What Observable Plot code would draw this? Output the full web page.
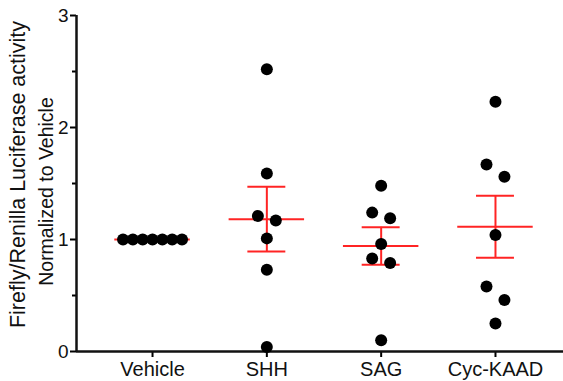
<!DOCTYPE html>
<html><head><meta charset="utf-8">
<script src="https://cdn.jsdelivr.net/npm/d3@7"></script>
<script src="https://cdn.jsdelivr.net/npm/@observablehq/plot@0.6"></script>
<style>body{margin:0;background:#fff;} svg{display:block;}</style>
</head><body><div id="chart"></div>
<script>
const categories = ["Vehicle", "SHH", "SAG", "Cyc-KAAD"];
const vehicle = [1.00, 1.00, 1.00, 1.00, 1.00, 1.00, 1.00];
const shh = [2.52, 1.59, 1.21, 1.17, 1.01, 0.73, 0.04];
const sag = [1.48, 1.24, 1.19, 0.96, 0.83, 0.79, 0.10];
const cycKAAD = [2.23, 1.67, 1.56, 1.04, 0.58, 0.46, 0.25];
const yTicks = [0, 1, 2, 3];
const yMinorTicks = [0.5, 1.5, 2.5];
const yLabelLine1 = "Firefly/Renilla Luciferase activity";
const yLabelLine2 = "Normalized to Vehicle";

const series = [vehicle, shh, sag, cycKAAD];
const RED = "#ff2424";

// scatter-dot-plot spreading (Prism style): near-equal values are spread sideways
const points = [];
series.forEach((vals, gi) => {
  const sorted = vals.slice().sort((a, b) => b - a);
  const groups = [];
  for (const v of sorted) {
    const g = groups[groups.length - 1];
    if (g && g[0] - v < 0.125) g.push(v); else groups.push([v]);
  }
  for (const g of groups) {
    const n = g.length;
    const spacing = n > 1 ? Math.min(0.157, 0.516 / (n - 1)) : 0;
    g.forEach((v, i) => points.push({group: gi, value: v, x: gi + (i - (n - 1) / 2) * spacing}));
  }
});

const stats = series.map((vals, gi) => {
  const m = d3.mean(vals);
  const sem = (d3.deviation(vals) || 0) / Math.sqrt(vals.length);
  return {group: gi, mean: m, lo: m - sem, hi: m + sem, sem};
});
const errStats = stats.filter(d => d.sem > 0);

const xDomain = [-0.665, 3.595];

const chart = Plot.plot({
  width: 563,
  height: 381,
  marginLeft: 76,
  marginRight: 0,
  marginTop: 15,
  marginBottom: 30,
  style: {fontFamily: "Liberation Sans, Arial, Helvetica, sans-serif", background: "#fff"},
  x: {type: "linear", domain: xDomain, axis: null},
  y: {domain: [0, 3], axis: null},
  marks: [
    // axes
    Plot.axisY({ticks: yMinorTicks, tickSize: 4, tickFormat: () => "", strokeWidth: 2, label: null}),
    Plot.axisY({ticks: yTicks, tickSize: 6, tickPadding: 2, tickFormat: d3.format("d"), fontSize: 19, strokeWidth: 2, label: null, fill: "#111"}),
    Plot.axisX({ticks: d3.range(categories.length), tickFormat: i => categories[i], tickSize: 6, tickPadding: 4, fontSize: 20, strokeWidth: 2, label: null, fill: "#111"}),
    Plot.ruleX([xDomain[0]], {y1: 0, y2: 3, strokeWidth: 2.5, stroke: "#111"}),
    Plot.ruleY([0], {strokeWidth: 2.5, stroke: "#111"}),
    // y label
    Plot.text([yLabelLine1], {frameAnchor: "left", dx: -58, dy: -9, rotate: -90, fontSize: 21.5, textAnchor: "middle", lineAnchor: "middle", fill: "#111"}),
    Plot.text([yLabelLine2], {frameAnchor: "left", dx: -30, dy: 8, rotate: -90, fontSize: 19.5, textAnchor: "middle", lineAnchor: "middle", fill: "#111"}),
    // mean and SEM
    Plot.ruleY(stats, {y: "mean", x1: d => d.group - 0.33, x2: d => d.group + 0.33, stroke: RED, strokeWidth: 2}),
    Plot.ruleX(errStats, {x: "group", y1: "lo", y2: "hi", stroke: RED, strokeWidth: 2}),
    Plot.ruleY(errStats, {y: "hi", x1: d => d.group - 0.166, x2: d => d.group + 0.166, stroke: RED, strokeWidth: 2}),
    Plot.ruleY(errStats, {y: "lo", x1: d => d.group - 0.166, x2: d => d.group + 0.166, stroke: RED, strokeWidth: 2}),
    // dots
    Plot.dot(points, {x: "x", y: "value", r: 6, fill: "#000", stroke: "none"})
  ]
});
document.getElementById("chart").appendChild(chart);
</script>
</body></html>
